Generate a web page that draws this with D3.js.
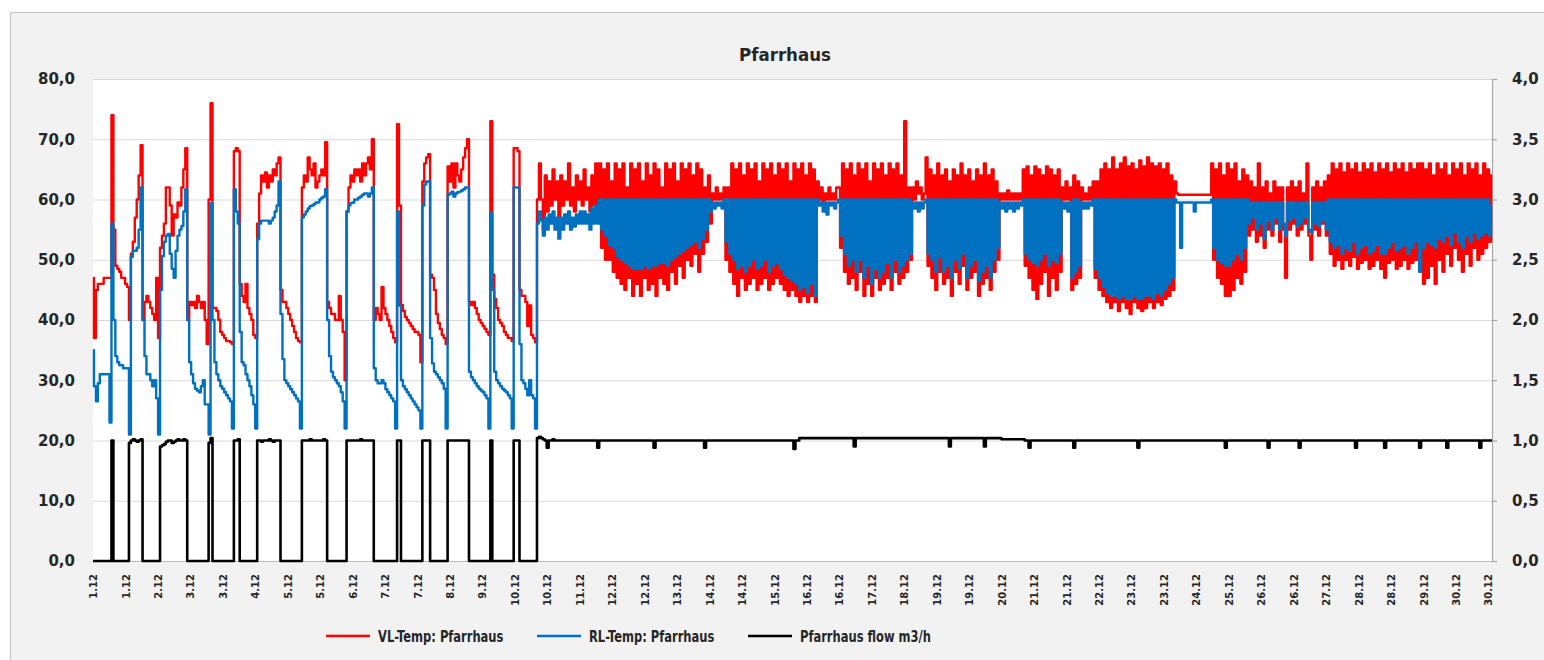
<!DOCTYPE html>
<html><head><meta charset="utf-8">
<script src="https://cdn.jsdelivr.net/npm/d3@7"></script>
<style>body{margin:0;background:#fff}svg{display:block}</style>
</head><body><svg id="c" width="1544" height="660"></svg>
<script>
const chartTitle = "Pfarrhaus";
const seriesNames = ["VL-Temp: Pfarrhaus", "RL-Temp: Pfarrhaus", "Pfarrhaus flow m3/h"];
const seriesColors = ["#ff0000", "#0070c0", "#000000"];
const tickLabels = ["1.12","1.12","2.12","3.12","3.12","4.12","5.12","5.12","6.12","7.12","7.12","8.12","9.12","10.12","10.12","11.12","12.12","12.12","13.12","14.12","14.12","15.12","16.12","16.12","17.12","18.12","19.12","19.12","20.12","21.12","21.12","22.12","23.12","23.12","24.12","25.12","26.12","26.12","27.12","28.12","28.12","29.12","30.12","30.12"];
const tickStepHours = 16.7;
const leftTicks = [0,10,20,30,40,50,60,70,80];
const rightTicks = [0,0.5,1,1.5,2,2.5,3,3.5,4];

// hourly samples, hour 0 = 1.12 00:00
const vlTemp = [
47,37,45,46,46,46,47,47,47,47,74,55,49,48.5,48,47,47,46,45.5,40,51,53,57,60,
64,69,40,43,44,43,42,41,40,47,37,52,54,56,62,62,59,54,57.5,57,59.5,59,62,65,
68.5,40,43,42.5,43,42,44,43,42,43,40,36,60,76,42,42,41.5,40,38,37.5,37,36.5,36.5,36.3,
36,68,68.5,68,46,44,43,46,42,41,40,37.5,37,56,61,64,63,64.5,62,64,63,65,64,66,
67,45,43,43,42,41,40,39,38,37,36.5,36.3,62,64,63,67,65,64,66,62,63,64,65,64,
69.5,43,42,41,41,40,40,44,40,38,30,58,62,64,63,65,64,65,63,66,64,66,67,65,
70,40,42,41,40,45.5,42,41,40,39,38,37,36.3,72.5,59,42.5,41.5,40.5,40,39.5,39,38.5,38,38,
37.5,33,63,66,67,67.5,47.5,47,45,41,39.5,38.5,37.5,37,36,65.5,63,66,62,66,64,63,65,67,
68.5,70,43,42.5,43,42,41,40,39.5,39,38.5,38,37.5,73,47.5,43.5,42,40,39.5,39,38,37.5,37,37,
36.5,68.5,68.5,68,45,44,44,43,39,42.4,37.5,37,36.3,60,66,60,55,64,58,63,59,65,60,63,
57,64,59,63,60,66,59,62,58,64,60,63,59,65,60,62,58,64,59,66,58,66,52,65,
50,66,50,63,48,66,47,65,46,66,45,62,47,66,44,65,46,66,44,63,47,66,45,64,
46,66,44,65,47,62,46,66,45,65,48,66,46,63,49,66,47,65,50,66,49,64,51,66,
48,65,51,62,53,64,56,61,60,62,60,61,60,62,50,62,48,66,46,65,44,66,47,64,
45,66,46,65,47,66,45,63,46,66,47,65,45,66,46,64,47,66,46,65,45,66,44,63,
45,66,44,65,43,66,44,64,43,66,44,65,43,63,60,62,59,61,60,62,60,61,60,62,
62,52,66,48,65,46,66,47,64,45,66,48,65,44,66,46,63,44,66,47,65,45,66,46,
64,47,66,45,65,48,66,46,64,47,73,48,62,50,62,60,63,61,62,60,61,67,49,65,
47,64,45,66,48,64,46,65,47,63,44,65,48,64,46,66,49,64,45,65,47,63,48,65,
44,64,46,66,47,64,45,65,48,63,50,61,60,61,60,61.5,60,61,60,61,60,61,60,65,
49,65.5,47,64,45,65.5,43.5,65,46,64,48,65.5,44,65,47,64,45,65,48,62,60,63,60,62,
45,64,46,63,47,62,60,61,60,62,60,63,47,63,45,65,44,66,43,65,42,67,43,65,
41.5,66,43,67,42,65.5,41,66,43,65,42,66.5,41.5,65.5,42,67,43,66,42,65.5,43,66,42.5,65,
43.5,66,44,64,45,63,61,60.8,60.8,60.8,60.8,60.8,60.8,60.8,60.8,60.8,60.8,60.8,60.8,60.8,60.8,60.8,60.8,60.8,
66,50,65,47,66,46,64,44,66,44,65,45,66,47,63,46,65,48,64,54,63,55,62,53,
66,54,62,52,63,55,61,54,63,56,62,53,62,55,47,62,55,63,56,62,54,63,55,61,
56,66,54,50,62,55,63,54,62,56,63,54,64,51,66,49,65,50,66,48.5,64.5,50,66,49,
65,50.5,66,48.5,64.5,49.5,66,50,65,48.5,66,49,64.5,50,66,48.5,65,47,66,49.5,64.5,50,66,48.5,
65,49,66,50,64.5,48.5,66,49.5,65,50,66,50,66,46,65,47,66,49,64,46,66,50,65,48,
66,51,64,49,66,52,65,50,66,48,64,51,66,49,65,52,66,50,64,51,66,52,65,53,
64];

const rlTemp = [
35,29,26.5,29.5,31,31,31,31,31,23,56,40,34,33,32.5,32.5,32,32,32,21,50.5,51.5,51.5,52,
55,62,40,34,31,31,30,29,30,27,21,45,50.6,53,54,54.3,51,48.5,47,51.5,54,55,55.6,58,
61.7,40,33,31,29.5,28.6,28.3,28,29,30,26,26,21,59.4,40,33,31,30,29,28.6,28,27.5,27,26.5,
22,61.7,58,56,38,33,32.5,31,30,29,27.5,26,22,53.4,56,56.5,56.5,56.5,56.5,56,56.5,57,58,59,
63,41,33.5,30,29.5,29,28.5,28,27.5,27,26.5,22,57,57.5,58,58.5,58.9,59,59.2,59.5,59.5,60,60.3,60.5,
61.7,40,34,31.4,30.5,30,29.5,29,28,26.5,22,58,59,59.4,59.5,60,60,60.3,60.5,60.8,61,61,60.5,61,
62,32,30,29.5,29.5,30,29.5,28.5,28,27.5,27,26.5,22,58,42.4,30,29,28.5,28,27.5,27,26.5,26,25.5,
25,22,59,62.5,63,63,37,32.8,31.4,31,30.5,30,29.5,28.6,22,60.8,61,61.3,60.5,61,61.2,61.3,61.5,61.7,
62,62,31.4,30.5,30,29.5,29,28.6,28.3,28,27.5,27,22,57.8,45,31.4,30,29.5,29,28.6,28.3,28,27.5,27,
22,62,62,62,36,30,29.5,28.6,27.5,30,27.5,27,22,56,58,56.5,54,57,55,57.5,56,58,55,57,
53.5,57,55,57.5,56,58,55,57,55.5,57.5,56,58,56,58,56,57.5,55,58.5,56,59,56,60,55,60,
54,60,52.5,60,52,60,50.5,60,50,60,49.5,60,49,60,48.5,60,48.5,60,48.5,60,49,60,48.5,60,
49,60,49,60,49.5,60,49.5,60,49,60,50,60,50.5,60,51,60,51.5,60,52,60,52.5,60,53,60,
52,60,53.5,60,55,60,58,59.5,58.5,59.5,59,59.5,58.5,60,53,60,51,60,50,60,48.5,60,49,60,
48,60,49,60,50,60,48.5,60,49,60,50,60,48,60,49,60,49.5,60,48.5,60,47.5,60,47,60,
46.5,60,46,60,45,60,45.5,60,44.5,60,46,60,44,60,59,59.5,58,59.5,57.5,59.5,59,59.5,58.5,59.5,
60,54,60,51,60,49,60,50,60,48,60,50,60,47,60,49,60,46,60,48.5,60,47,60,48,
60,49.5,60,47,60,50,60,48,60,49,60,50,60,51,59.5,58.5,59.5,58,59.5,58.5,59.5,60,51,60,
50,60,48,60,50.5,60,48,60,49,60,47,60,50,60,48.5,60,51,60,47,60,49,60,50,60,
46.5,60,48,60,49,60,47,60,50,60,52,59.5,58.5,59.5,58,59.5,58.5,59.5,58,59.5,58.5,59.5,59,60,
51,60,50,60,49.5,60,49,60,50,60,51,60,49,60,50,60,49.5,60,51,59.5,58.5,59.5,58,59.5,
47,60,48,60,49,59.5,58.5,59.5,58.5,59.5,59,60,48.5,60,47,60,45.5,60,44.5,60,44,60,44,60,
43.5,60,44,60,43.5,60,43.5,60,44,60,43.5,60,43.5,60,44,60,44,60,43.5,60,44.5,60,44,60,
45,60,46,60,47,60,59.5,59.5,52,59.5,59.5,59.5,59.5,59.5,59.5,58,59.5,59.5,59.5,59.5,59.5,59.5,59.5,59.5,
60,52,60,50,60,49.5,60,49,60,49,60,50,60,51,60,50,60,52,60,56,59.5,57,59.5,55,
59.5,56,59.5,53.5,59.5,56.5,59.5,55,59.5,57,59.5,55,59.5,56,54,59.5,56.5,59.5,57,59.5,55.5,59.5,56,59.5,
57,59.5,55,54.5,59.5,56,59.5,55.5,59.5,56.5,59.5,55,60,53,60,52,60,52.5,60,51,60,52,60,51.5,
60,53,60,51,60,52,60,52.5,60,51,60,51.5,60,52.5,60,51,60,51,60,52,60,53,60,51.5,
60,52,60,52.5,60,51,60,52,60,53,60,48,60,52,60,53,60,52.5,60,52,60,53.5,60,53,
60,54,60,52.5,60,54.5,60,53,60,52,60,54,60,53,60,54.5,60,53.5,60,54,60,54.5,60,54,
59];

const flowM3h = [
0,0,0,0,0,0,0,0,0,0,1,0,0,0,0,0,0,0,0,0.98,1,1.01,1,0.99,
1,1.01,0,0,0,0,0,0,0,0,0,0.95,0.96,0.97,0.99,1,1,0.98,0.99,1,1.01,1,1,1.01,
1,0,0,0,0,0,0,0,0,0,0,0,0.98,1.02,0,0,0,0,0,0,0,0,0,0,
0,1,1,1.01,0,0,0,0,0,0,0,0,0,1,1,0.99,1,1,1,1.01,1,0.99,1,1,
1,0,0,0,0,0,0,0,0,0,0,0,1,1,1,1,1.01,1,1,1,1,1,1,1.01,
1,0,0,0,0,0,0,0,0,0,0,1,1,1,1,1,1,1,1.01,1,1,1,1,1,
1,0,0,0,0,0,0,0,0,0,0,0,0,1,1,0,0,0,0,0,0,0,0,0,
0,0,1,1,1,1,0,0,0,0,0,0,0,0,0,1,1,1,1,1,1,1,1,1,
1,1,0,0,0,0,0,0,0,0,0,0,0,1,0,0,0,0,0,0,0,0,0,0,
0,1,1,1,0,0,0,0,0,0,0,0,0,1.02,1.03,1.02,1.01,1,0.94,1,1,1.01,1,1,
1,1,1,1,1,1,1,1,1,1,1,1,1,1,1,1,1,1,1,1,0.94,1,1,1,
1,1,1,1,1,1,1,1,1,1,1,1,1,1,1,1,1,1,1,1,1,1,1,1,
1,0.94,1,1,1,1,1,1,1,1,1,1,1,1,1,1,1,1,1,1,1,1,1,1,
1,1,1,0.94,1,1,1,1,1,1,1,1,1,1,1,1,1,1,1,1,1,1,1,1,
1,1,1,1,1,1,1,1,1,1,1,1,1,1,1,1,1,1,1,1,1,1,1,1,
1,0.93,1,1,1.02,1.02,1.02,1.02,1.02,1.02,1.02,1.02,1.02,1.02,1.02,1.02,1.02,1.02,1.02,1.02,1.02,1.02,1.02,1.02,
1.02,1.02,1.02,1.02,1.02,1.02,1.02,1.02,0.95,1.02,1.02,1.02,1.02,1.02,1.02,1.02,1.02,1.02,1.02,1.02,1.02,1.02,1.02,1.02,
1.02,1.02,1.02,1.02,1.02,1.02,1.02,1.02,1.02,1.02,1.02,1.02,1.02,1.02,1.02,1.02,1.02,1.02,1.02,1.02,1.02,1.02,1.02,1.02,
1.02,1.02,1.02,1.02,1.02,1.02,1.02,1.02,1.02,0.95,1.02,1.02,1.02,1.02,1.02,1.02,1.02,1.02,1.02,1.02,1.02,1.02,1.02,1.02,
1.02,1.02,1.02,0.95,1.02,1.02,1.02,1.02,1.02,1.02,1.02,1.02,1.01,1.01,1.01,1.01,1.01,1.01,1.01,1.01,1.01,1.01,1.01,1.01,
1,1,0.94,1,1,1,1,1,1,1,1,1,1,1,1,1,1,1,1,1,1,1,1,1,
1,0.94,1,1,1,1,1,1,1,1,1,1,1,1,1,1,1,1,1,1,1,1,1,1,
1,1,1,1,1,1,1,1,1,1,0.94,1,1,1,1,1,1,1,1,1,1,1,1,1,
1,1,1,1,1,1,1,1,1,1,1,1,1,1,1,1,1,1,1,1,1,1,1,1,
1,1,1,1,1,1,1,0.94,1,1,1,1,1,1,1,1,1,1,1,1,1,1,1,1,
1,1,1,1,1,0.94,1,1,1,1,1,1,1,1,1,1,1,1,1,1,1,0.94,1,1,
1,1,1,1,1,1,1,1,1,1,1,1,1,1,1,1,1,1,1,1,1,1,1,1,
1,1,0.94,1,1,1,1,1,1,1,1,1,1,1,1,1,1,0.94,1,1,1,1,1,1,
1,1,1,1,1,1,1,1,1,1,1,0.94,1,1,1,1,1,1,1,1,1,1,1,1,
1,0.94,1,1,1,1,1,1,1,1,1,1,1,1,1,1,1,1,0.94,1,1,1,1,1,
1];

const svg = d3.select("#c");
const P = {left: 93, right: 1492, top: 79, bottom: 561};
const numFont = "'DejaVu Sans', sans-serif";
const txtFont = "'DejaVu Sans Condensed', 'DejaVu Sans', sans-serif";
const deLocale = d3.formatLocale({decimal: ",", thousands: ".", grouping: [3], currency: ["", " €"]});
const fmt1 = deLocale.format(".1f");

svg.append("rect").attr("x", 0).attr("y", 0).attr("width", 1544).attr("height", 660).attr("fill", "#fff");
svg.append("rect").attr("x", 10.5).attr("y", 12.5).attr("width", 1600).attr("height", 700)
  .attr("fill", "#f2f2f2").attr("stroke", "#c6c6c6").attr("stroke-width", 1.2);
svg.append("rect").attr("x", P.left).attr("y", P.top).attr("width", P.right - P.left).attr("height", P.bottom - P.top).attr("fill", "#fff");

const x = d3.scaleLinear().domain([0, 720]).range([P.left, P.right]);
const yL = d3.scaleLinear().domain([0, 80]).range([P.bottom, P.top]);
const yR = d3.scaleLinear().domain([0, 4]).range([P.bottom, P.top]);

// left axis with gridlines
const gL = svg.append("g").attr("transform", `translate(${P.left},0)`)
  .call(d3.axisLeft(yL).tickValues(leftTicks).tickFormat(fmt1)
    .tickSize(-(P.right - P.left)).tickPadding(18));
gL.select(".domain").remove();
gL.selectAll(".tick line").attr("stroke", "#d9d9d9").attr("stroke-width", 1);
gL.selectAll(".tick text").attr("font-family", numFont).attr("font-weight", "bold")
  .attr("font-size", 15).attr("fill", "#262626");

// bottom axis
const gB = svg.append("g").attr("transform", `translate(0,${P.bottom})`)
  .call(d3.axisBottom(x).tickValues(tickLabels.map((d, i) => i * tickStepHours))
    .tickFormat((d, i) => tickLabels[i]).tickSize(0).tickSizeOuter(0));
gB.select(".domain").attr("stroke", "#bfbfbf").attr("stroke-width", 1.2);
gB.selectAll(".tick text")
  .attr("transform", "rotate(-90)").attr("text-anchor", "end")
  .attr("x", -13).attr("y", 0).attr("dy", "0.36em")
  .attr("font-family", numFont).attr("font-weight", "bold")
  .attr("font-size", 10).attr("fill", "#262626");

// right axis
const gR = svg.append("g").attr("transform", `translate(${P.right},0)`)
  .call(d3.axisRight(yR).tickValues(rightTicks).tickFormat(fmt1).tickSize(5).tickSizeOuter(0).tickPadding(15));
gR.select(".domain").attr("stroke", "#a6a6a6").attr("stroke-width", 1.2);
gR.selectAll(".tick line").attr("stroke", "#a6a6a6").attr("stroke-width", 1.2);
gR.selectAll(".tick text").attr("font-family", numFont).attr("font-weight", "bold")
  .attr("font-size", 15).attr("fill", "#262626");

// series
const lineL = d3.line().curve(d3.curveStep).x((d, i) => x(i)).y(d => yL(d));
const lineR = d3.line().curve(d3.curveStep).x((d, i) => x(i)).y(d => yR(d));
const plotG = svg.append("g");
plotG.append("path").datum(vlTemp).attr("d", lineL).attr("fill", "none")
  .attr("stroke", seriesColors[0]).attr("stroke-width", 2.4).attr("stroke-linejoin", "round");
plotG.append("path").datum(rlTemp).attr("d", lineL).attr("fill", "none")
  .attr("stroke", seriesColors[1]).attr("stroke-width", 2.4).attr("stroke-linejoin", "round");
plotG.append("path").datum(flowM3h).attr("d", lineR).attr("fill", "none")
  .attr("stroke", seriesColors[2]).attr("stroke-width", 2.6).attr("stroke-linejoin", "round");

// title
svg.append("text").attr("x", 785).attr("y", 61).attr("text-anchor", "middle")
  .attr("font-family", txtFont).attr("font-weight", "bold").attr("font-size", 18.5)
  .attr("fill", "#262626").text(chartTitle);

// legend
const legendX = [326, 537, 748];
const lg = svg.append("g").selectAll("g").data(seriesNames).join("g")
  .attr("transform", (d, i) => `translate(${legendX[i]},636)`);
lg.append("line").attr("x1", 0).attr("x2", 44).attr("y1", 0).attr("y2", 0)
  .attr("stroke", (d, i) => seriesColors[i]).attr("stroke-width", 2.6);
lg.append("text").attr("transform", "translate(52,0) scale(0.8,1)").attr("dy", "0.36em")
  .attr("font-family", txtFont).attr("font-weight", "bold").attr("font-size", 16)
  .attr("fill", "#262626").text(d => d);
</script>
</body></html>
